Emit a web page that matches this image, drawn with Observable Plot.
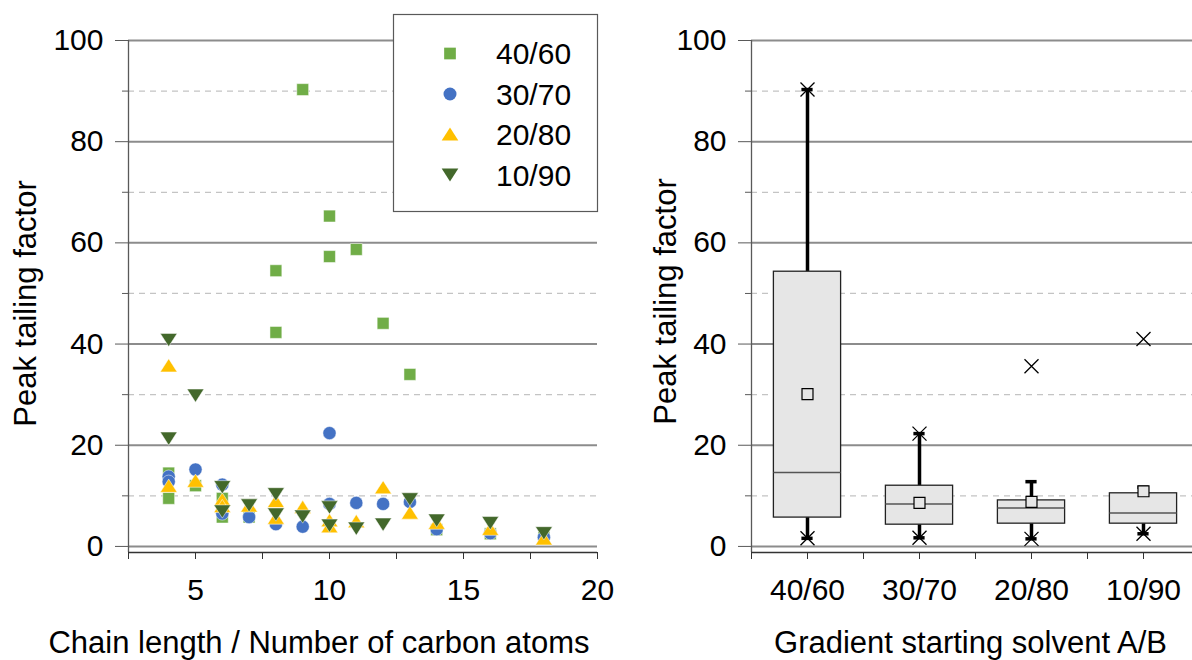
<!DOCTYPE html>
<html>
<head>
<meta charset="utf-8">
<script src="https://cdn.jsdelivr.net/npm/d3@7"></script>
<script src="https://cdn.jsdelivr.net/npm/@observablehq/plot@0.6"></script>
<style>
  html, body { margin: 0; padding: 0; background: #fff; overflow: hidden; }
  #wrap { position: relative; width: 1192px; height: 660px; overflow: hidden; background: #fff; }
  #left, #right, #legend { position: absolute; top: 0; }
  #left { left: 0; width: 620px; }
  #right { left: 600px; width: 599px; }
  #legend { left: 393px; top: 14px; }
  svg { overflow: visible; max-width: none !important; }
</style>
</head>
<body>
<div id="wrap">
  <div id="left"></div>
  <div id="right"></div>
  <div id="legend"></div>
</div>
<script>
// ---------- data ----------
const seriesNames = ["40/60", "30/70", "20/80", "10/90"];
const seriesColors = ["#70AD47", "#4472C4", "#FFC000", "#43682B"];
const seriesShapes = ["square", "circle", "up", "down"];

const chain4060 = [4, 4, 5, 6, 6, 7, 8, 8, 9, 10, 10, 11, 12, 13, 14, 16, 18];
const tf4060    = [14.5, 9.5, 12.0, 9.5, 5.8, 5.8, 54.5, 42.3, 90.3, 65.3, 57.3, 58.7, 44.1, 34.0, 3.3, 2.5, 1.8];

const chain3070 = [4, 4, 5, 6, 6, 7, 8, 9, 10, 10, 11, 12, 13, 14, 16, 18];
const tf3070    = [13.8, 12.8, 15.2, 12.2, 6.5, 5.8, 4.4, 3.9, 22.4, 8.4, 8.6, 8.4, 8.8, 3.4, 2.6, 1.8];

const chain2080 = [4, 4, 5, 6, 6, 7, 8, 8, 9, 10, 10, 11, 12, 13, 14, 16, 18];
const tf2080    = [35.8, 12.0, 13.0, 9.3, 8.0, 8.1, 9.0, 5.7, 7.8, 5.2, 4.0, 5.0, 11.7, 6.7, 4.7, 3.5, 1.6];

const chain1090 = [4, 4, 5, 6, 6, 7, 8, 8, 9, 10, 10, 11, 12, 13, 14, 16, 18];
const tf1090    = [40.8, 21.3, 29.8, 11.7, 6.9, 8.1, 10.3, 6.3, 5.9, 7.7, 4.1, 3.5, 4.3, 9.3, 5.1, 4.6, 2.6];

// box plot statistics per gradient starting solvent
const boxGroups   = ["40/60", "30/70", "20/80", "10/90"];
const boxQ1       = [5.7, 4.3, 4.5, 4.5];
const boxMedian   = [14.6, 8.4, 7.6, 6.6];
const boxQ3       = [54.3, 12.0, 9.1, 10.5];
const boxMean     = [30.1, 8.6, 8.8, 10.9];
const whiskerLow  = [1.6, 1.7, 1.5, 2.5];
const whiskerHigh = [90.3, 22.3, 12.8, 11.7];
const groupMin    = [1.6, 1.7, 1.5, 2.5];
const groupMax    = [90.3, 22.3, 35.6, 41.0];

// axes
const xDomainLeft = [2.5, 20];
const yDomain = [-1.2, 100];
const xTicksLeft = [2.5, 5, 7.5, 10, 12.5, 15, 17.5, 20];
const xLabelsLeft = [5, 10, 15, 20];
const yMajorTicks = [0, 20, 40, 60, 80, 100];
const yMinorTicks = [10, 30, 50, 70, 90];

const xTitleLeft = "Chain length / Number of carbon atoms";
const xTitleRight = "Gradient starting solvent A/B";
const yTitle = "Peak tailing factor";

// ---------- helpers ----------
const FONT = "'Liberation Sans', Arial, Helvetica, sans-serif";
const TITLE_SIZE = 31;

function shapeSymbol(kind) {
  return {
    draw(ctx, size) {
      const r = Math.sqrt(size / Math.PI);
      if (kind === "square") {
        const s = 0.9 * r;
        ctx.rect(-s, -s, 2 * s, 2 * s);
      } else if (kind === "circle") {
        ctx.moveTo(r, 0);
        ctx.arc(0, 0, r, 0, 2 * Math.PI);
      } else if (kind === "up") {
        ctx.moveTo(0, -r);
        ctx.lineTo(1.28 * r, r);
        ctx.lineTo(-1.28 * r, r);
        ctx.closePath();
      } else if (kind === "down") {
        ctx.moveTo(0, r);
        ctx.lineTo(1.28 * r, -r);
        ctx.lineTo(-1.28 * r, -r);
        ctx.closePath();
      } else if (kind === "times") {
        ctx.moveTo(-r, -r); ctx.lineTo(r, r);
        ctx.moveTo(r, -r); ctx.lineTo(-r, r);
      }
    }
  };
}

const scatterSeries = [
  d3.zip(chain4060, tf4060),
  d3.zip(chain3070, tf3070),
  d3.zip(chain2080, tf2080),
  d3.zip(chain1090, tf1090)
];

const gridMarks = [
  Plot.ruleY(yMinorTicks, {stroke: "#c4c4c4", strokeWidth: 1.3, strokeDasharray: "6,5"}),
  Plot.ruleY(yMajorTicks, {stroke: "#8c8c8c", strokeWidth: 2})
];

// ---------- left: scatter ----------
const left = Plot.plot({
  width: 620,
  height: 660,
  marginLeft: 128,
  marginRight: 23,
  marginTop: 40,
  marginBottom: 108,
  style: {fontFamily: FONT, fontSize: "30px", color: "#000", background: "transparent", maxWidth: "none"},
  x: {domain: xDomainLeft},
  y: {domain: yDomain},
  marks: [
    ...gridMarks,
    Plot.ruleX([xDomainLeft[0]], {stroke: "#595959", strokeWidth: 1.3}),
    Plot.ruleY([yDomain[0]], {stroke: "#333", strokeWidth: 1.3}),
    Plot.axisY(yMinorTicks, {tickSize: 6, tickFormat: () => "", label: null, stroke: "#595959"}),
    Plot.axisY(yMajorTicks, {tickSize: 13, tickPadding: 12, label: null, stroke: "#595959", fill: "#000", fontSize: 30}),
    Plot.axisX(xTicksLeft, {tickSize: 7, tickPadding: 19, label: null, stroke: "#333", fill: "#000", fontSize: 30,
      tickFormat: d => xLabelsLeft.includes(d) ? String(d) : ""}),
    ...scatterSeries.map((data, i) =>
      Plot.dot(data, {
        x: d => d[0], y: d => d[1], r: 6.6,
        symbol: shapeSymbol(seriesShapes[i]),
        fill: seriesColors[i], stroke: "#fff", strokeWidth: 0.7, strokeOpacity: 0.7
      })
    ),
    Plot.text([yTitle], {frameAnchor: "left", rotate: -90, textAnchor: "middle", lineAnchor: "top",
      dx: -115, dy: 7, fontSize: TITLE_SIZE, fill: "#000"}),
    Plot.text([xTitleLeft], {frameAnchor: "bottom", textAnchor: "middle", lineAnchor: "top",
      dx: -44, dy: 78, fontSize: TITLE_SIZE, fill: "#000"})
  ]
});
document.getElementById("left").appendChild(left);

// ---------- right: box plots ----------
const boxData = boxGroups.map((g, i) => ({
  group: g, idx: i + 1,
  q1: boxQ1[i], median: boxMedian[i], q3: boxQ3[i], mean: boxMean[i],
  lo: whiskerLow[i], hi: whiskerHigh[i], min: groupMin[i], max: groupMax[i]
}));
const half = 0.3;   // half box width in category units
const cap = 0.05;   // half cap width
const xTicksRight = d3.range(0.5, boxGroups.length + 0.51, 0.5);

const right = Plot.plot({
  width: 599,
  height: 660,
  marginLeft: 151,
  marginRight: 0,
  marginTop: 40,
  marginBottom: 108,
  style: {fontFamily: FONT, fontSize: "30px", color: "#000", background: "transparent", maxWidth: "none"},
  x: {domain: [0.5, boxGroups.length + 0.5]},
  y: {domain: yDomain},
  marks: [
    ...gridMarks,
    Plot.ruleX([0.5], {stroke: "#595959", strokeWidth: 1.3}),
    Plot.ruleY([yDomain[0]], {stroke: "#333", strokeWidth: 1.3}),
    Plot.axisY(yMinorTicks, {tickSize: 6, tickFormat: () => "", label: null, stroke: "#595959"}),
    Plot.axisY(yMajorTicks, {tickSize: 13, tickPadding: 12, label: null, stroke: "#595959", fill: "#000", fontSize: 30}),
    Plot.axisX(xTicksRight, {tickSize: 7, tickPadding: 19, label: null, stroke: "#333", fill: "#000", fontSize: 30,
      tickFormat: d => Number.isInteger(d) ? boxGroups[d - 1] : ""}),
    // whiskers
    Plot.ruleX(boxData, {x: "idx", y1: "q3", y2: "hi", stroke: "#000", strokeWidth: 3.5}),
    Plot.ruleX(boxData, {x: "idx", y1: "lo", y2: "q1", stroke: "#000", strokeWidth: 3.5}),
    Plot.ruleY(boxData, {y: "hi", x1: d => d.idx - cap, x2: d => d.idx + cap, stroke: "#000", strokeWidth: 3.5}),
    Plot.ruleY(boxData, {y: "lo", x1: d => d.idx - cap, x2: d => d.idx + cap, stroke: "#000", strokeWidth: 3.5}),
    // boxes
    Plot.rect(boxData, {x1: d => d.idx - half, x2: d => d.idx + half, y1: "q1", y2: "q3",
      fill: "#e6e6e6", stroke: "#222", strokeWidth: 1.3}),
    Plot.ruleY(boxData, {y: "median", x1: d => d.idx - half, x2: d => d.idx + half, stroke: "#555", strokeWidth: 1.5}),
    // mean marker
    Plot.dot(boxData, {x: "idx", y: "mean", r: 6.1, symbol: shapeSymbol("square"),
      fill: "#e6e6e6", stroke: "#000", strokeWidth: 1.2}),
    // min / max markers
    Plot.dot(boxData, {x: "idx", y: "min", r: 7, symbol: shapeSymbol("times"), fill: "none", stroke: "#000", strokeWidth: 1.3}),
    Plot.dot(boxData, {x: "idx", y: "max", r: 7, symbol: shapeSymbol("times"), fill: "none", stroke: "#000", strokeWidth: 1.3}),
    Plot.text([yTitle], {frameAnchor: "left", rotate: -90, textAnchor: "middle", lineAnchor: "top",
      dx: -98, dy: 5, fontSize: TITLE_SIZE, fill: "#000"}),
    Plot.text([xTitleRight], {frameAnchor: "bottom", textAnchor: "middle", lineAnchor: "top",
      dx: -5, dy: 78, fontSize: TITLE_SIZE, fill: "#000"})
  ]
});
document.getElementById("right").appendChild(right);

// ---------- legend ----------
(function () {
  const W = 205, H = 198;
  const svg = d3.select("#legend").append("svg")
    .attr("width", W).attr("height", H)
    .style("font-family", FONT).style("font-size", "30px");
  svg.append("rect").attr("x", 0.5).attr("y", 0.5).attr("width", W - 1).attr("height", H - 1)
    .attr("fill", "#fff").attr("stroke", "#595959").attr("stroke-width", 1.2);
  const rows = [39.5, 80, 120, 161];
  seriesNames.forEach((name, i) => {
    const p = d3.path();
    shapeSymbol(seriesShapes[i]).draw(p, Math.PI * 6.5 * 6.5);
    svg.append("path").attr("d", p.toString())
      .attr("transform", `translate(57,${rows[i]})`)
      .attr("fill", seriesColors[i]);
    svg.append("text").attr("x", 103).attr("y", rows[i]).attr("dy", "0.35em")
      .attr("fill", "#000").text(name);
  });
})();
</script>
</body>
</html>
